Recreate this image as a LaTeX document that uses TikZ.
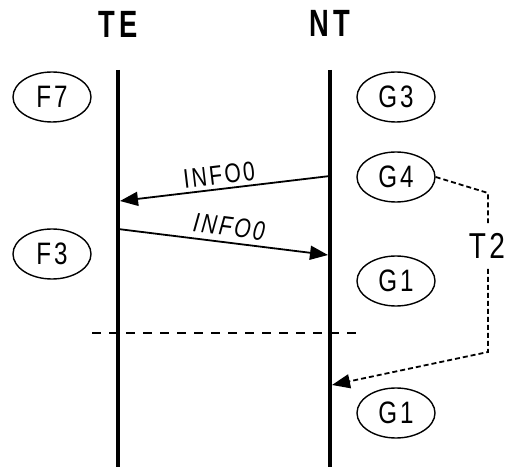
\documentclass[tikz,border=0pt]{standalone}
\usepackage{fontspec}
\setmainfont{Liberation Sans}
\newfontfamily\narrowfont[FakeStretch=0.78, LetterSpace=9]{Liberation Sans}
\newfontfamily\titlefont[FakeStretch=0.72, LetterSpace=10]{Liberation Sans}
\usepackage{tikz}
\usetikzlibrary{shapes.geometric, arrows.meta, positioning}
\tikzset{
  state/.style={draw, ellipse, line width=1.4pt, minimum width=78pt, minimum height=50pt, inner sep=0pt, font=\narrowfont\fontsize{31}{33}\selectfont},
  lifeline/.style={line width=3.6pt},
  msg/.style={line width=1.8pt, -{Triangle[length=18pt, width=14pt]}},
  msglabel/.style={font=\narrowfont\fontsize{27}{29}\selectfont, sloped, above},
  title/.style={font=\titlefont\bfseries\fontsize{38}{40}\selectfont},
  divider/.style={line width=1.8pt, dash pattern=on 9pt off 8pt},
  timer/.style={line width=1.8pt, dash pattern=on 5pt off 3pt},
}

\begin{document}
\begin{tikzpicture}[x=1pt, y=1pt]
  \useasboundingbox (0,0) rectangle (507,-468);

  % Lifelines
  \node[title] (TE) at (118,-24) {TE};
  \node[title] (NT) at (330,-23) {NT};
  \coordinate (teTop) at (118,-70);
  \coordinate (teBot) at (118,-467);
  \coordinate (ntTop) at (330,-70);
  \coordinate (ntBot) at (330,-467);
  \draw[lifeline] (teTop) -- (teBot);
  \draw[lifeline] (ntTop) -- (ntBot);

  % States
  \node[state] (F7) at (52,-97) {F7};
  \node[state] (F3) at (52,-254) {F3};
  \node[state] (G3) at (396,-97) {G3};
  \node[state] (G4) at (396,-177) {G4};
  \node[state] (G1) at (396,-281) {G1};
  \node[state] (G1b) at (396,-413) {G1};

  % Messages
  \coordinate (ntOut) at (330,-176);
  \coordinate (teIn) at (120,-201);
  \coordinate (teOut) at (118,-229);
  \coordinate (ntIn) at (328,-255);
  \draw[msg] (ntOut) -- node[msglabel, pos=0.52, yshift=0pt] {INFO0} (teIn);
  \draw[msg] (teOut) -- node[msglabel, pos=0.52, yshift=2pt, font=\narrowfont\itshape\fontsize{27}{29}\selectfont] {INFO0} (ntIn);

  % Divider
  \coordinate (divL) at (92,-333);
  \coordinate (divR) at (358,-333);
  \draw[divider] (divL) -- (divR);

  % Timer T2
  \node[font=\narrowfont\fontsize{36}{38}\selectfont, inner xsep=2pt, inner ysep=10pt] (T2) at (487,-246) {T2};
  \coordinate (t2a) at (488,-193);
  \coordinate (t2b) at (488,-352);
  \coordinate (t2tip) at (332,-385);
  \draw[timer] (G4.east) -- (t2a) -- (t2a |- T2.north);
  \draw[timer, -{Triangle[length=18pt, width=14pt]}] (t2b |- T2.south) -- (t2b) -- (t2tip);
\end{tikzpicture}
\end{document}
